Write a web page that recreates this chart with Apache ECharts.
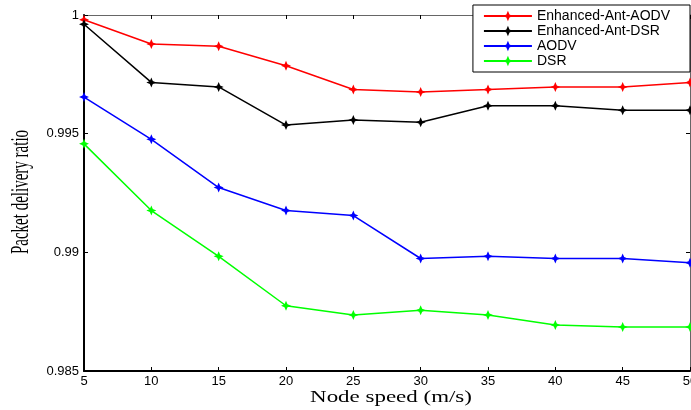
<!DOCTYPE html>
<html>
<head>
<meta charset="utf-8">
<script src="https://cdn.jsdelivr.net/npm/echarts@6/dist/echarts.min.js"></script>
<style>
  html, body { margin: 0; padding: 0; background: #fff; }
  #chart { width: 691px; height: 410px; }
</style>
</head>
<body>
<div id="chart"></div>
<script>
// node speed (m/s)
const speeds = [5, 10, 15, 20, 25, 30, 35, 40, 45, 50]

// packet delivery ratio per protocol
const antAodv = [0.9998, 0.99878, 0.99868, 0.99786, 0.99686, 0.99676, 0.99686, 0.99697, 0.99697, 0.99716]
const antDsr = [0.99961, 0.99716, 0.99697, 0.99536, 0.99558, 0.99548, 0.99618, 0.99618, 0.99599, 0.99599]
const aodv = [0.99654, 0.99476, 0.99273, 0.99176, 0.99155, 0.98974, 0.98983, 0.98974, 0.98974, 0.98956]
const dsr = [0.99457, 0.99176, 0.98983, 0.98775, 0.98736, 0.98756, 0.98736, 0.98694, 0.98685, 0.98685]

const seriesNames = ['Enhanced-Ant-AODV', 'Enhanced-Ant-DSR', 'AODV', 'DSR']
const seriesColors = ['#ff0000', '#000000', '#0000ff', '#00ff00']

// asterisk-like marker
const star = 'path://M0,-5L1.5,-1.5L5,0L1.5,1.5L0,5L-1.5,1.5L-5,0L-1.5,-1.5Z'

const chart = echarts.init(document.getElementById('chart'))

const makeSeries = (name, values, color) => ({
  name,
  type: 'line',
  data: speeds.map((s, i) => [s, values[i]]),
  symbol: star,
  symbolSize: 10,
  showSymbol: true,
  lineStyle: { color, width: 1.5 },
  itemStyle: { color },
  animation: false
})

const option = {
  backgroundColor: '#fff',
  grid: { left: 84, top: 15, right: 1, bottom: 39, outerBoundsMode: 'none', containLabel: false },
  legend: {
    right: 1,
    top: 5,
    orient: 'vertical',
    itemGap: 1,
    itemWidth: 48,
    itemHeight: 13,
    padding: [4, 20, 4, 10],
    borderColor: '#000',
    borderWidth: 1,
    backgroundColor: '#fff',
    textStyle: { fontFamily: 'Liberation Sans', fontSize: 14, color: '#000' },
    data: seriesNames
  },
  // axis titles, stretched sideways like the original figure
  graphic: [
    {
      type: 'text',
      x: 391,
      y: 398,
      scaleX: 1.35,
      style: {
        text: 'Node speed (m/s)',
        fontFamily: 'Liberation Serif',
        fontSize: 17,
        fill: '#000',
        align: 'center',
        verticalAlign: 'middle'
      }
    },
    {
      type: 'text',
      x: 21,
      y: 192,
      rotation: Math.PI / 2,
      scaleY: 1.7,
      style: {
        text: 'Packet delivery ratio',
        fontFamily: 'Liberation Serif',
        fontSize: 15,
        fill: '#000',
        align: 'center',
        verticalAlign: 'middle'
      }
    }
  ],
  xAxis: [
    {
      type: 'value',
      min: 5,
      max: 50,
      interval: 5,
      axisLine: { lineStyle: { color: '#000', width: 2 } },
      axisTick: { inside: true, length: 4, lineStyle: { color: '#000' } },
      axisLabel: { fontFamily: 'Liberation Sans', fontSize: 13, color: '#000', margin: 4 },
      splitLine: { show: false }
    },
    {
      type: 'value',
      position: 'top',
      min: 5,
      max: 50,
      interval: 5,
      axisLine: { show: true, lineStyle: { color: '#666', width: 1 } },
      axisTick: { inside: true, length: 4, lineStyle: { color: '#000' } },
      axisLabel: { show: false },
      splitLine: { show: false }
    }
  ],
  yAxis: [
    {
      type: 'value',
      min: 0.985,
      max: 1,
      interval: 0.005,
      axisLine: { show: true, lineStyle: { color: '#000', width: 2 } },
      axisTick: { inside: true, length: 4, lineStyle: { color: '#000' } },
      axisLabel: {
        fontFamily: 'Liberation Sans',
        fontSize: 13,
        color: '#000',
        margin: 5,
        formatter: (v) => String(parseFloat(v.toFixed(3)))
      },
      splitLine: { show: false }
    },
    {
      type: 'value',
      position: 'right',
      min: 0.985,
      max: 1,
      interval: 0.005,
      axisLine: { show: true, lineStyle: { color: '#666', width: 1 } },
      axisTick: { inside: true, length: 4, lineStyle: { color: '#000' } },
      axisLabel: { show: false },
      splitLine: { show: false }
    }
  ],
  series: [
    makeSeries(seriesNames[0], antAodv, seriesColors[0]),
    makeSeries(seriesNames[1], antDsr, seriesColors[1]),
    makeSeries(seriesNames[2], aodv, seriesColors[2]),
    makeSeries(seriesNames[3], dsr, seriesColors[3])
  ]
}

chart.setOption(option)
</script>
</body>
</html>
